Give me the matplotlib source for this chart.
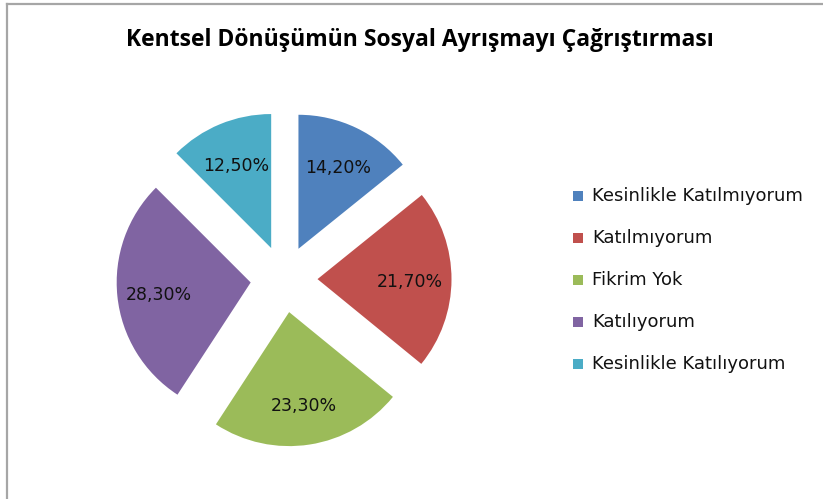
import matplotlib.pyplot as plt
from matplotlib.lines import Line2D

categories = ["Kesinlikle Katılmıyorum", "Katılmıyorum", "Fikrim Yok",
              "Katılıyorum", "Kesinlikle Katılıyorum"]
values = [14.2, 21.7, 23.3, 28.3, 12.5]
colors = ["#4f81bd", "#c0504d", "#9bbb59", "#8064a2", "#4bacc6"]

W, H = 823, 499

fig = plt.figure(figsize=(W / 100, H / 100), dpi=100)
ax = fig.add_axes([0, 0, 1, 1])

# chart frame (top + left edges visible)
ax.add_line(Line2D([7, W], [H - 4, H - 4], color='#a6a6a6', lw=1.6))
ax.add_line(Line2D([7, 7], [0, H - 4], color='#a6a6a6', lw=1.6))

radius = 134
explode = [radius * 0.25] * len(values)
wedges, texts, autotexts = ax.pie(
    values, colors=colors, startangle=90, counterclock=False,
    center=(284, H - 279), radius=radius, explode=explode,
    autopct=lambda p: f"{p:.2f}%".replace('.', ','), pctdistance=0.69,
    frame=True, wedgeprops=dict(linewidth=0),
    textprops=dict(fontsize=12.5, color='#111111', family='DejaVu Sans'))
for t in autotexts:
    x, y = t.get_position()
    t.set_position((x, y - 3))
ax.set_xlim(0, W)
ax.set_ylim(0, H)
ax.axis('off')

ax.text(420, H - 40, "Kentsel Dönüşümün Sosyal Ayrışmayı Çağrıştırması",
        ha='center', va='center', fontsize=16.5, fontweight='bold',
        family='Open Sans', color='black')

# legend
for i, (lab, c) in enumerate(zip(categories, colors)):
    y = H - (196 + 42 * i)
    ax.add_patch(plt.Rectangle((573, y - 5), 10, 10, color=c, lw=0))
    ax.text(592, y, lab, ha='left', va='center', fontsize=13,
            family='DejaVu Sans', color='#111111')

fig.savefig("out.png", dpi=100)
